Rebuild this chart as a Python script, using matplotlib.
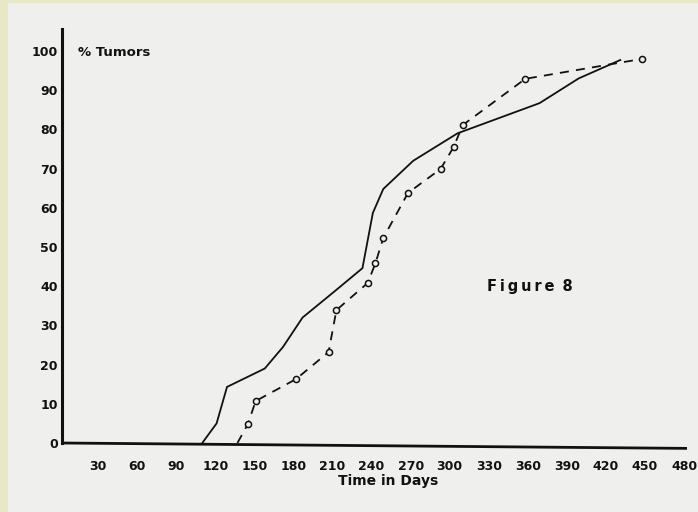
import matplotlib
matplotlib.use("Agg")
import matplotlib.pyplot as plt
from matplotlib.patches import Rectangle
from matplotlib.lines import Line2D

# Cumulative tumour incidence (%) against time (days)
solid_days = [110, 121, 129, 158, 172, 187, 212, 233, 241, 249, 272, 306, 369, 399, 431]
solid_pct = [0, 5, 14.3, 19, 24.5, 32, 38.8, 44.6, 58.7, 64.8, 72, 79, 86.7, 93, 97.7]

dashed_days = [137, 145, 151, 182, 207, 213, 237, 243, 249, 268, 293, 303, 310, 358, 448]
dashed_pct = [0, 4.8, 10.7, 16.3, 23.2, 33.9, 40.8, 45.9, 52.3, 63.8, 69.9, 75.5, 81.1, 92.9, 98]

x_ticks = [30, 60, 90, 120, 150, 180, 210, 240, 270, 300, 330, 360, 390, 420, 450, 480]
y_ticks = [0, 10, 20, 30, 40, 50, 60, 70, 80, 90, 100]

W, H = 698, 512
paper = "#efefed"
ink = "#111111"

fig = plt.figure(figsize=(W / 100, H / 100), dpi=100)
fig.patch.set_facecolor("#e9e8c6")
fig.patches.append(Rectangle((8 / W, 0), 1, 1 - 3 / H, transform=fig.transFigure,
                             facecolor=paper, edgecolor="none", zorder=-10))

left, right, bottom, top = 62, 687, 443, 29
ax = fig.add_axes([left / W, 1 - bottom / H, (right - left) / W, (bottom - top) / H])
ax.set_facecolor("none")
ax.set_zorder(5)

px_per_day = 39.07 / 30
px_per_pct = 3.92
x0 = 2.3
ax.set_xlim(x0, x0 + (right - left) / px_per_day)
ax.set_ylim(0, (bottom - top) / px_per_pct)

ax.plot(solid_days, solid_pct, color=ink, lw=1.3, solid_joinstyle="miter")
ax.plot(dashed_days, dashed_pct, color=ink, lw=1.3, ls=(0, (5, 4)),
        marker="o", markersize=4.4, markerfacecolor=paper, markeredgecolor=ink,
        markeredgewidth=1.1, markevery=slice(1, None))

for s in ["top", "right", "bottom"]:
    ax.spines[s].set_visible(False)
ax.spines["left"].set_linewidth(2.2)
ax.spines["left"].set_color(ink)

# slightly skewed baseline
ax.add_line(Line2D([0, 1], [0, -0.013], transform=ax.transAxes, color=ink,
                   lw=2.0, clip_on=False, solid_capstyle="butt"))

ax.set_xticks(x_ticks)
ax.set_xticklabels([str(v) for v in x_ticks])
ax.set_yticks(y_ticks)
ax.set_yticklabels([str(v) for v in y_ticks])
ax.tick_params(axis="both", length=0, colors=ink)
ax.tick_params(axis="x", pad=12, labelsize=9)
ax.tick_params(axis="y", pad=3, labelsize=9)
for lab in ax.get_xticklabels() + ax.get_yticklabels():
    lab.set_fontweight("bold")

fig.text(388 / W, 1 - 481 / H, "Time in Days", ha="center", va="center",
         fontsize=10, fontweight="bold", color=ink)
fig.text(78 / W, 1 - 52 / H, "% Tumors", ha="left", va="center",
         fontsize=9.5, fontweight="bold", color=ink)
fig.text(530 / W, 1 - 287 / H, "\u2009".join("Figure") + "\u2009 8", ha="center",
         va="center", fontsize=10.5, fontweight="bold", color=ink)

fig.savefig("out.png", dpi=100, facecolor=fig.get_facecolor())
